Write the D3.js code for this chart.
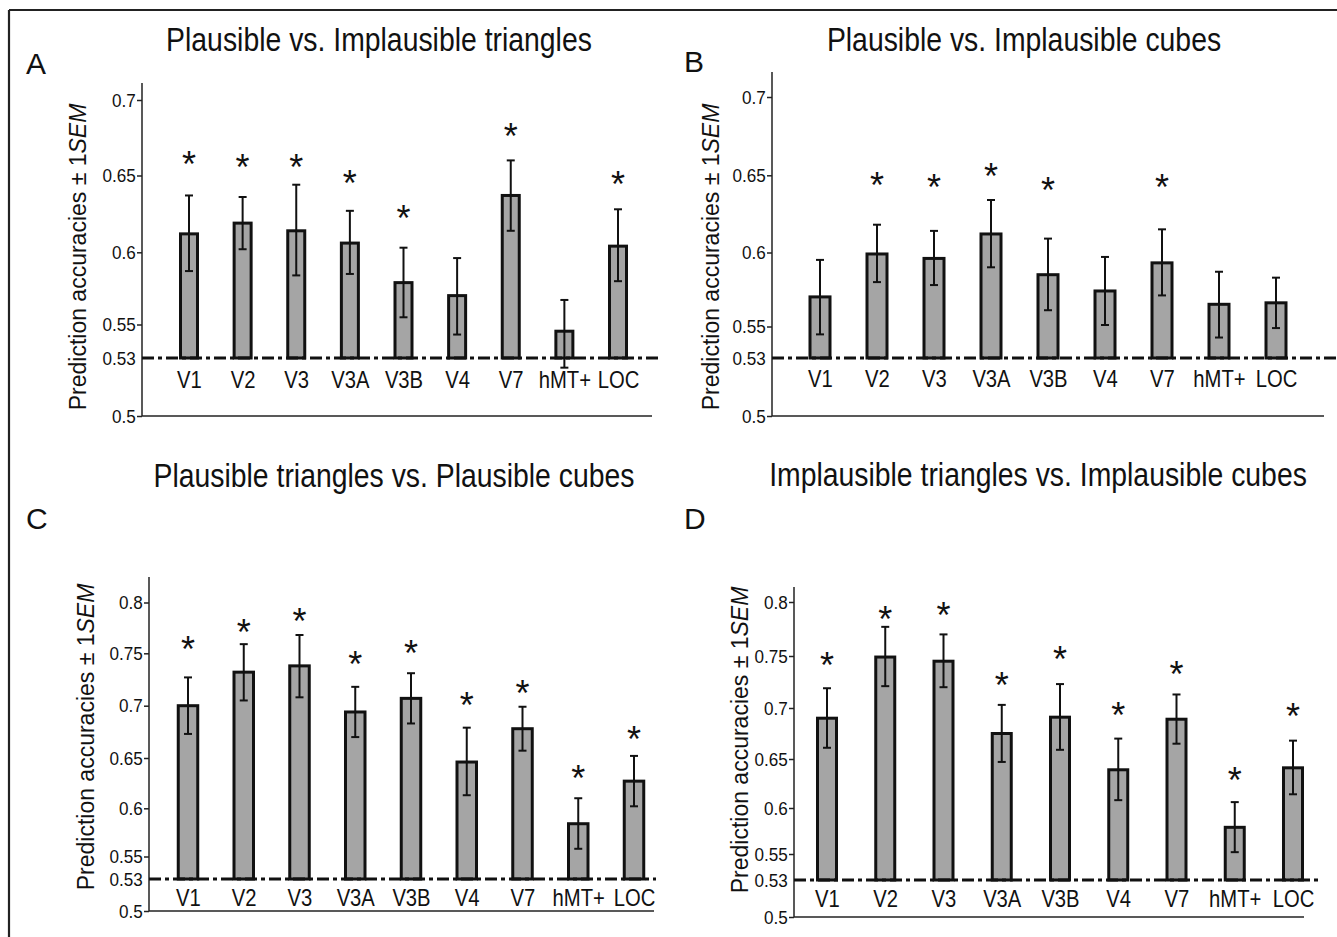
<!DOCTYPE html>
<html>
<head>
<meta charset="utf-8">
<script src="https://cdn.jsdelivr.net/npm/d3@7"></script>
<style>
  body { margin: 0; background: #fff; }
  svg text { font-family: "Liberation Sans", Arial, Helvetica, sans-serif; fill: #111; }
</style>
</head>
<body>
<div id="chart"></div>
<script>
// regions of interest, same for all four panels
var categories = ["V1", "V2", "V3", "V3A", "V3B", "V4", "V7", "hMT+", "LOC"];

// A: plausible vs implausible triangles
var accA  = [0.612, 0.619, 0.614, 0.606, 0.579, 0.570, 0.637, 0.546, 0.604];
var semA  = [0.025, 0.017, 0.030, 0.021, 0.024, 0.026, 0.023, 0.021, 0.024];
var starA = [0.662, 0.660, 0.660, 0.650, 0.627, null, 0.681, null, 0.649];

// B: plausible vs implausible cubes
var accB  = [0.570, 0.599, 0.596, 0.612, 0.585, 0.574, 0.593, 0.565, 0.566];
var semB  = [0.025, 0.019, 0.018, 0.022, 0.024, 0.023, 0.022, 0.022, 0.017];
var starB = [null, 0.648, 0.647, 0.654, 0.645, null, 0.647, null, null];

// C: plausible triangles vs plausible cubes
var accC  = [0.700, 0.732, 0.738, 0.694, 0.707, 0.646, 0.678, 0.584, 0.627];
var semC  = [0.027, 0.027, 0.030, 0.024, 0.024, 0.033, 0.021, 0.026, 0.025];
var starC = [0.761, 0.778, 0.789, 0.746, 0.757, 0.707, 0.719, 0.637, 0.675];

// D: implausible triangles vs implausible cubes
var accD  = [0.690, 0.749, 0.745, 0.675, 0.691, 0.639, 0.689, 0.579, 0.641];
var semD  = [0.029, 0.028, 0.025, 0.028, 0.032, 0.031, 0.024, 0.027, 0.027];
var starD = [0.748, 0.791, 0.794, 0.729, 0.754, 0.700, 0.739, 0.636, 0.699];

var ticksAB = [0.5, 0.53, 0.55, 0.6, 0.65, 0.7];
var ticksCD = [0.5, 0.53, 0.55, 0.6, 0.65, 0.7, 0.75, 0.8];
var chance = 0.53;

var titles = ["Plausible vs. Implausible triangles", "Plausible vs. Implausible cubes",
              "Plausible triangles vs. Plausible cubes", "Implausible triangles vs. Implausible cubes"];
var letters = ["A", "B", "C", "D"];

var width = 1337, height = 937;

var svg = d3.select("#chart").append("svg")
    .attr("width", width)
    .attr("height", height);

// frame of the figure (top and left edges are visible)
svg.append("line").attr("x1", 9).attr("x2", width).attr("y1", 10).attr("y2", 10)
   .attr("stroke", "#222").attr("stroke-width", 2.2);
svg.append("line").attr("x1", 9).attr("x2", 9).attr("y1", 10).attr("y2", height)
   .attr("stroke", "#222").attr("stroke-width", 2.2);

// layout of each panel (pixel positions of the printed axis ticks)
var panels = [
  {acc: accA, sem: semA, star: starA, ticks: ticksAB, tickPx: [416, 358, 324.5, 252.3, 175.5, 100],
   axisX: 142, axisEnd: 652, yTop: 83, firstX: 189, lastX: 618, barW: 17,
   titleX: 379, titleY: 51, letterX: 26, letterY: 74, labelX: 86, labelY: 257, catY: 388, dashEnd: 658},
  {acc: accB, sem: semB, star: starB, ticks: ticksAB, tickPx: [416, 358, 326.5, 252.5, 175.3, 97],
   axisX: 772, axisEnd: 1324, yTop: 72, firstX: 820, lastX: 1276, barW: 20,
   titleX: 1024, titleY: 51, letterX: 684, letterY: 72, labelX: 719, labelY: 257, catY: 387, dashEnd: 1337},
  {acc: accC, sem: semC, star: starC, ticks: ticksCD, tickPx: [911, 879, 856.5, 808.3, 758, 705.7, 653.3, 602.5],
   axisX: 149, axisEnd: 654, yTop: 577, firstX: 188, lastX: 634, barW: 19.5,
   titleX: 394, titleY: 487, letterX: 26, letterY: 529, labelX: 94, labelY: 737, catY: 906, dashEnd: 656},
  {acc: accD, sem: semD, star: starD, ticks: ticksCD, tickPx: [917, 880, 854, 808, 759, 708, 656, 602],
   axisX: 794, axisEnd: 1304, yTop: 587, firstX: 827, lastX: 1293, barW: 19,
   titleX: 1038, titleY: 486, letterX: 684, letterY: 529, labelX: 748, labelY: 740, catY: 907, dashEnd: 1322}
];

panels.forEach(function(p, k) {
  var g = svg.append("g");

  // piecewise y scale following the printed tick marks
  var y = d3.scaleLinear().domain(p.ticks).range(p.tickPx);
  var x = d3.scalePoint().domain(categories).range([p.firstX, p.lastX]);

  var rows = categories.map(function(c, i) {
    return {cat: c, acc: p.acc[i], sem: p.sem[i], star: p.star[i]};
  });

  // title and panel letter
  g.append("text")
   .attr("transform", "translate(" + p.titleX + "," + p.titleY + ") scale(0.86,1)")
   .attr("text-anchor", "middle")
   .style("font-size", "33px")
   .text(titles[k]);

  g.append("text")
   .attr("x", p.letterX).attr("y", p.letterY)
   .style("font-size", "30px")
   .text(letters[k]);

  // y axis title
  var lab = g.append("text")
   .attr("transform", "translate(" + p.labelX + "," + p.labelY + ") rotate(-90)")
   .attr("text-anchor", "middle")
   .style("font-size", "23px")
   .text("Prediction accuracies \u00b1 1");
  lab.append("tspan").style("font-style", "italic").text("SEM");

  // y axis
  var yAxis = d3.axisLeft(y)
      .tickValues(p.ticks)
      .tickSize(5)
      .tickPadding(2)
      .tickFormat(function(d) { return String(d); });

  var ya = g.append("g")
      .attr("transform", "translate(" + p.axisX + ",0)")
      .call(yAxis);
  ya.select(".domain").remove();
  ya.selectAll(".tick line").attr("stroke", "#222").attr("stroke-width", 1.5)
    .attr("display", function(d) { return d === chance ? "none" : null; });
  ya.selectAll(".tick text")
    .attr("transform", "scale(0.9,1)")
    .style("font-size", "19px")
    .style("font-family", "'Liberation Sans', Arial, sans-serif")
    .attr("fill", "#222");

  g.append("line")
   .attr("x1", p.axisX).attr("x2", p.axisX)
   .attr("y1", p.yTop).attr("y2", y(0.5))
   .attr("stroke", "#222").attr("stroke-width", 1.5);

  // x axis baseline
  g.append("line")
   .attr("x1", p.axisX).attr("x2", p.axisEnd)
   .attr("y1", y(0.5)).attr("y2", y(0.5))
   .attr("stroke", "#222").attr("stroke-width", 1.5);

  // bars from chance level
  g.selectAll(".bar")
   .data(rows)
   .enter()
   .append("rect")
   .attr("class", "bar")
   .attr("x", function(d) { return x(d.cat) - p.barW / 2; })
   .attr("y", function(d) { return y(d.acc); })
   .attr("width", p.barW)
   .attr("height", function(d) { return y(chance) - y(d.acc); })
   .attr("fill", "#a5a5a5")
   .attr("stroke", "#111")
   .attr("stroke-width", 3);

  // chance line (dash dot)
  g.append("line")
   .attr("x1", p.axisX).attr("x2", p.dashEnd)
   .attr("y1", y(chance)).attr("y2", y(chance))
   .attr("stroke", "#111").attr("stroke-width", 3)
   .attr("stroke-dasharray", "12,4,4,4");

  // error bars +/- 1 SEM
  var eb = g.selectAll(".err")
   .data(rows)
   .enter()
   .append("g")
   .attr("class", "err");
  eb.append("line")
   .attr("x1", function(d) { return x(d.cat); })
   .attr("x2", function(d) { return x(d.cat); })
   .attr("y1", function(d) { return y(d.acc + d.sem); })
   .attr("y2", function(d) { return y(d.acc - d.sem); })
   .attr("stroke", "#111").attr("stroke-width", 2);
  [1, -1].forEach(function(s) {
    eb.append("line")
     .attr("x1", function(d) { return x(d.cat) - 4; })
     .attr("x2", function(d) { return x(d.cat) + 4; })
     .attr("y1", function(d) { return y(d.acc + s * d.sem); })
     .attr("y2", function(d) { return y(d.acc + s * d.sem); })
     .attr("stroke", "#111").attr("stroke-width", 2);
  });

  // significance stars
  g.selectAll(".star")
   .data(rows.filter(function(d) { return d.star !== null; }))
   .enter()
   .append("text")
   .attr("class", "star")
   .attr("x", function(d) { return x(d.cat); })
   .attr("y", function(d) { return y(d.star) + 20; })
   .attr("text-anchor", "middle")
   .style("font-size", "36px")
   .text("*");

  // category labels
  var xAxis = d3.axisBottom(x).tickSize(0).tickPadding(0);
  var xa = g.append("g")
      .attr("transform", "translate(0," + p.catY + ")")
      .call(xAxis);
  xa.select(".domain").remove();
  xa.selectAll(".tick text")
    .attr("y", 0).attr("dy", 0)
    .attr("transform", "scale(0.88,1)")
    .style("font-size", "23px")
    .style("font-family", "'Liberation Sans', Arial, sans-serif")
    .attr("fill", "#111");
});
</script>
</body>
</html>
